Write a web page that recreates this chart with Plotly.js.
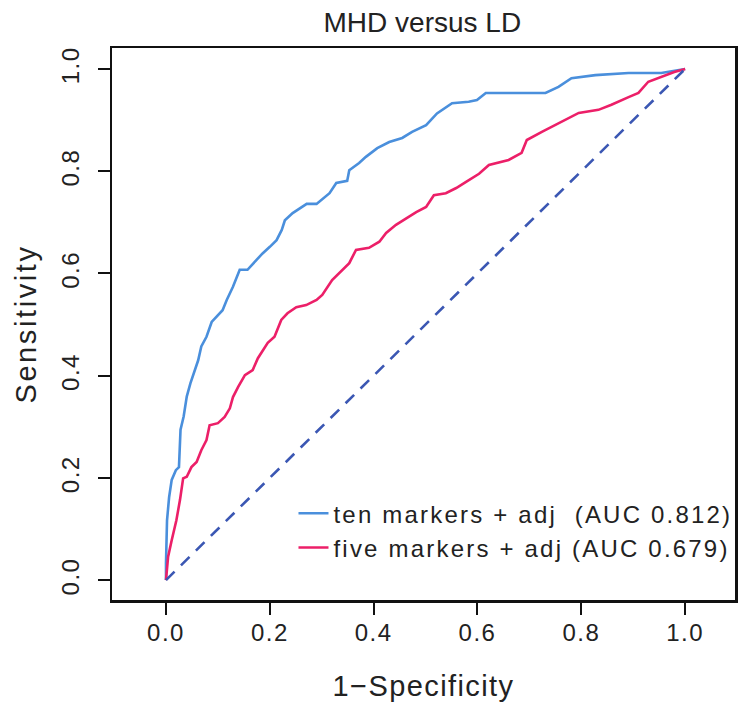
<!DOCTYPE html>
<html>
<head>
<meta charset="utf-8">
<script src="https://cdn.plot.ly/plotly-3.0.1.min.js"></script>
<style>
html,body{margin:0;padding:0;background:#fff;}
#chart{width:739px;height:704px;}
g.xtick text, g.ytick text{letter-spacing:1.5px;}
text.xtitle{letter-spacing:1.4px;}
text.ytitle{letter-spacing:2.6px;}
text.legendtext{letter-spacing:2.2px;}
</style>
</head>
<body>
<div id="chart"></div>
<script>
// ten markers + adj (AUC 0.812)
const tenFPR = [0,0,0.002,0.006,0.011,0.019,0.025,0.028,0.034,0.040,0.047,0.056,0.062,0.068,0.078,0.088,0.097,0.109,0.117,0.129,0.142,0.157,0.174,0.186,0.200,0.213,0.223,0.229,0.244,0.271,0.290,0.315,0.328,0.349,0.353,0.372,0.385,0.407,0.430,0.455,0.474,0.501,0.522,0.551,0.583,0.599,0.616,0.731,0.756,0.781,0.827,0.891,0.954,1.0];
const tenTPR = [0,0.033,0.117,0.162,0.196,0.215,0.221,0.294,0.320,0.359,0.385,0.411,0.430,0.457,0.476,0.505,0.515,0.528,0.548,0.574,0.607,0.607,0.626,0.639,0.652,0.665,0.685,0.704,0.718,0.736,0.736,0.757,0.777,0.781,0.802,0.816,0.828,0.845,0.857,0.865,0.877,0.890,0.913,0.933,0.936,0.939,0.953,0.953,0.965,0.982,0.988,0.992,0.992,1.0];
// five markers + adj (AUC 0.679)
const fiveFPR = [0,0.004,0.011,0.020,0.027,0.033,0.040,0.049,0.059,0.068,0.078,0.084,0.100,0.113,0.123,0.129,0.139,0.152,0.167,0.177,0.196,0.209,0.222,0.234,0.251,0.270,0.290,0.301,0.320,0.337,0.353,0.366,0.391,0.411,0.424,0.443,0.463,0.482,0.501,0.516,0.539,0.559,0.578,0.603,0.622,0.660,0.685,0.695,0.724,0.750,0.795,0.833,0.858,0.891,0.910,0.929,0.954,0.979,1.0];
const fiveTPR = [0,0.045,0.078,0.117,0.157,0.199,0.202,0.221,0.231,0.254,0.274,0.303,0.307,0.319,0.336,0.358,0.378,0.401,0.411,0.434,0.464,0.476,0.509,0.522,0.534,0.538,0.548,0.558,0.587,0.603,0.620,0.646,0.650,0.662,0.679,0.695,0.708,0.720,0.730,0.753,0.757,0.767,0.779,0.795,0.812,0.822,0.836,0.861,0.877,0.890,0.914,0.920,0.930,0.945,0.953,0.975,0.984,0.994,1.0];
const refLine = [0, 1];
const seriesNames = ["ten markers + adj\u00a0\u00a0(AUC 0.812)", "five markers + adj (AUC 0.679)"];
const xTicks = [0, 0.2, 0.4, 0.6, 0.8, 1.0];
const xTickText = ["0.0", "0.2", "0.4", "0.6", "0.8", "1.0"];
const yTicks = [0, 0.2, 0.4, 0.6, 0.8, 1.0];
const yTickText = ["0.0", "0.2", "0.4", "0.6", "0.8", "1.0"];

const FONT = "Liberation Sans, Arial, Helvetica, sans-serif";
const traces = [
  {x: tenFPR, y: tenTPR, type: "scatter", mode: "lines", name: seriesNames[0],
   line: {color: "#4a8fdc", width: 2.6}},
  {x: fiveFPR, y: fiveTPR, type: "scatter", mode: "lines", name: seriesNames[1],
   line: {color: "#ec1f68", width: 2.6}},
  {x: refLine, y: refLine, type: "scatter", mode: "lines", showlegend: false, hoverinfo: "skip",
   line: {color: "#3b57b3", width: 2.6, dash: "12px,9px"}}
];
const layout = {
  width: 739, height: 704,
  margin: {l: 112, r: 2, t: 48, b: 104},
  paper_bgcolor: "#fff", plot_bgcolor: "#fff",
  font: {family: FONT, color: "#222"},
  title: {text: "MHD versus LD", font: {size: 28, color: "#222"}, x: 0.5715, xanchor: "center", y: 0.968, yanchor: "middle"},
  xaxis: {
    range: [-0.104, 1.096], tickmode: "array", tickvals: xTicks, ticktext: xTickText,
    ticks: "outside", ticklen: 12, tickwidth: 2, tickcolor: "#111",
    showline: true, mirror: true, linecolor: "#111", linewidth: 2.5,
    showgrid: false, zeroline: false, tickfont: {size: 24, color: "#222"},
    ticklabelstandoff: -2,
    title: {text: "1\u2212Specificity", font: {size: 29, color: "#222"}, standoff: 31}
  },
  yaxis: {
    range: [-0.039, 1.041], tickmode: "array", tickvals: yTicks, ticktext: yTickText,
    ticks: "outside", ticklen: 12, tickwidth: 2, tickcolor: "#111", tickangle: -90,
    showline: true, mirror: true, linecolor: "#111", linewidth: 2.5,
    showgrid: false, zeroline: false, tickfont: {size: 24, color: "#222"},
    ticklabelstandoff: 9,
    title: {text: "Sensitivity", font: {size: 29, color: "#222"}, standoff: 12}
  },
  legend: {x: 1.004, xanchor: "right", y: 0.054, yanchor: "bottom", bgcolor: "rgba(0,0,0,0)",
           borderwidth: 0, font: {size: 24, color: "#222"}, tracegroupgap: 0},
  showlegend: true
};
Plotly.newPlot("chart", traces, layout, {displayModeBar: false, staticPlot: true});
</script>
</body>
</html>
